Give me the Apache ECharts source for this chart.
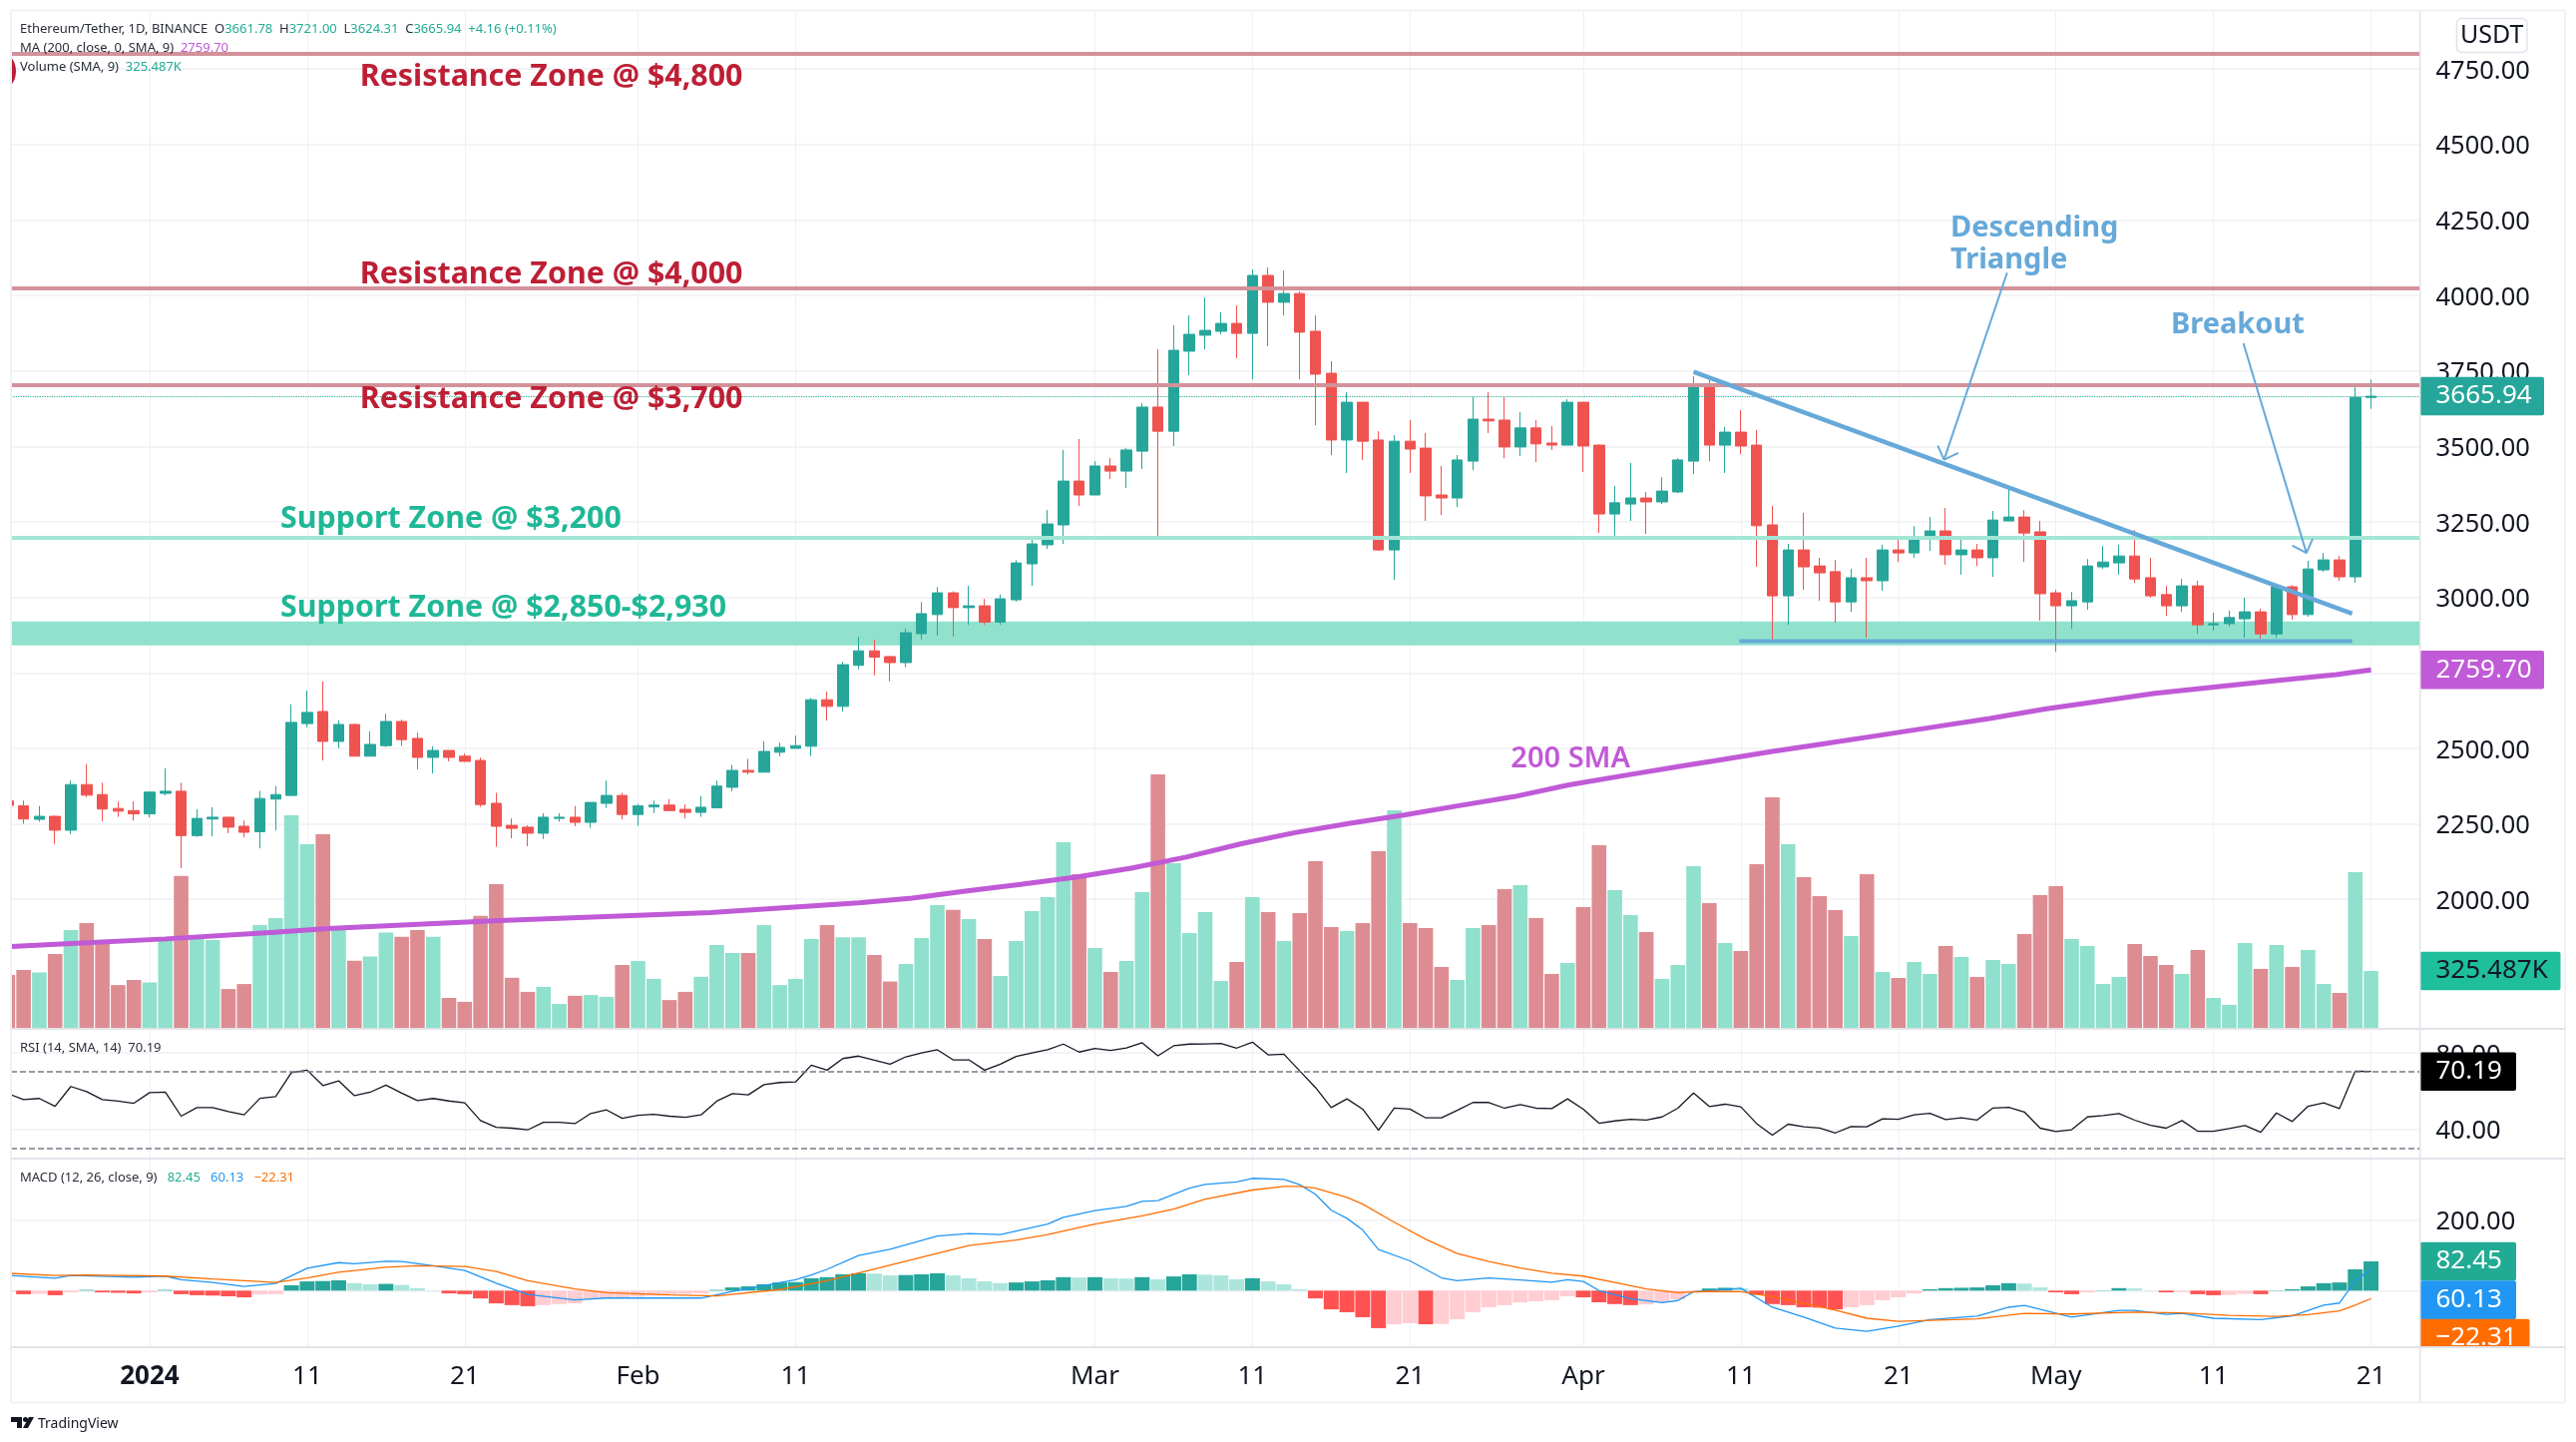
<!DOCTYPE html>
<html>
<head>
<meta charset="utf-8">
<title>ETHUSDT</title>
<style>
html,body{margin:0;padding:0;background:#fff}
#main{width:2582px;height:1445px}
</style>
<script src="https://cdn.jsdelivr.net/npm/echarts@6/dist/echarts.min.js"></script>
</head>
<body>
<div id="main"></div>
<script>
'use strict'
// one row per month: Dec 23 - Dec 31, Jan, Feb, Mar, Apr, May 1 - May 21
const firstDay = -9; // Dec 23, counted in days from Jan 1
const opens = [
	2326,2310,2265,2275,2229,2380,2347,2301,2294,
	2283,2351,2358,2211,2266,2272,2242,2224,2332,2344,2582,2622,2523,2579,2474,2509,2589,2533,2470,2493,2474,2460,2318,2245,2239,2219,2268,2272,2255,2318,2344,
	2281,2306,2312,2298,2288,2303,2371,2427,2421,2487,2500,2507,2661,2639,2775,2823,2804,2784,2880,2943,3015,2966,2972,2918,2992,3111,3174,3240,3385,
	3339,3435,3418,3484,3630,3550,3815,3868,3881,3907,3874,4066,3977,4006,3881,3742,3521,3646,3521,3157,3517,3494,3339,3329,3451,3590,3587,3498,3561,3511,3504,
	3646,3504,3276,3309,3329,3316,3349,3451,3696,3504,3547,3504,3240,3005,3157,3104,3085,2985,3065,3055,3157,3147,3197,3220,3141,3157,3131,3253,3266,3217,
	3015,2972,2985,3101,3114,3137,3065,3009,2972,3038,2909,2913,2929,2952,2879,3035,2943,3091,3124,3068,3661.78
];
const closes = [
	2311,2266,2275,2229,2380,2345,2299,2292,2283,
	2355,2358,2211,2268,2272,2239,2222,2334,2347,2586,2619,2523,2579,2474,2513,2589,2529,2470,2493,2470,2457,2314,2242,2235,2219,2272,2272,2255,2321,2344,2281,
	2310,2312,2294,2288,2305,2375,2427,2421,2490,2503,2509,2661,2639,2777,2823,2802,2784,2883,2946,3015,2966,2972,2918,2995,3114,3177,3243,3385,3339,
	3435,3418,3488,3630,3550,3818,3871,3884,3907,3874,4066,3977,4006,3878,3739,3521,3646,3517,3157,3517,3491,3336,3329,3455,3590,3584,3498,3561,3508,3504,3646,
	3501,3276,3313,3329,3316,3352,3455,3696,3504,3547,3501,3237,3005,3157,3101,3081,2985,3065,3055,3157,3147,3200,3220,3141,3157,3131,3256,3266,3213,3012,
	2972,2989,3104,3117,3137,3061,3005,2972,3038,2909,2913,2933,2952,2879,3035,2943,3094,3124,3068,3662,3665.94
];
const lows = [
	2306,2250,2257,2183,2216,2339,2259,2273,2261,
	2271,2344,2103,2207,2209,2219,2206,2169,2228,2342,2570,2460,2500,2474,2474,2504,2509,2430,2417,2457,2455,2306,2174,2202,2176,2200,2257,2242,2237,2303,2265,
	2244,2286,2294,2268,2273,2303,2358,2414,2421,2474,2500,2474,2592,2622,2762,2742,2722,2769,2861,2874,2870,2909,2909,2909,2986,3038,3160,3177,3303,
	3339,3392,3362,3425,3200,3501,3736,3821,3871,3792,3722,3831,3934,3722,3570,3471,3412,3455,3154,3058,3412,3253,3273,3299,3421,3544,3461,3468,3448,3488,3504,
	3415,3213,3204,3253,3210,3309,3345,3408,3451,3412,3474,3101,2852,2909,3025,2989,2916,2952,2866,3022,3117,3131,3154,3108,3075,3104,3068,3253,3117,2923,
	2820,2896,2959,3094,3075,3048,2999,2939,2952,2879,2889,2903,2866,2863,2866,2926,2936,3084,3055,3048,3624.31
];
const highs = [
	2330,2327,2309,2278,2393,2448,2386,2324,2324,
	2358,2434,2386,2298,2305,2272,2261,2359,2375,2646,2691,2722,2592,2582,2556,2615,2595,2552,2507,2493,2483,2469,2353,2268,2245,2285,2285,2309,2321,2393,2353,
	2316,2327,2332,2314,2342,2393,2445,2465,2524,2519,2542,2667,2688,2786,2870,2860,2806,2896,2984,3034,3020,3038,2995,3009,3123,3197,3289,3488,3524,
	3451,3461,3494,3643,3821,3901,3934,3993,3944,3967,4086,4092,4082,4013,3934,3782,3679,3646,3550,3537,3587,3544,3435,3471,3663,3679,3663,3613,3587,3567,3656,
	3646,3507,3369,3445,3349,3398,3461,3732,3722,3564,3620,3554,3303,3177,3280,3131,3124,3094,3131,3174,3200,3236,3266,3296,3194,3177,3286,3358,3289,3253,
	3025,3018,3127,3170,3174,3223,3131,3038,3061,3055,2949,2956,2999,2962,3041,3041,3121,3147,3137,3696,3721
];
// volume in thousands
const volumes = [
	303,331,317,421,555,595,477,246,275,
	261,497,860,507,499,224,252,583,623,1200,1038,1094,557,383,407,541,517,555,517,174,152,635,814,287,208,236,140,186,190,180,359,
	381,281,162,208,293,471,427,427,583,246,281,505,583,515,515,415,266,365,511,696,669,617,505,297,494,662,741,1049,870,
	454,320,381,769,1431,931,539,656,269,376,741,656,494,651,942,572,550,595,999,1229,595,567,348,275,567,583,785,808,623,309,370,
	684,1032,780,640,544,281,359,914,707,482,438,926,1302,1038,853,746,668,522,870,320,286,376,309,466,404,292,387,365,533,752,
	802,505,466,252,292,477,410,359,309,443,174,135,482,337,471,348,443,252,202,881,325.487
];
const rsiValues = [
	58.6,55.4,56,51.9,62.3,59.6,55.4,54.6,53.5,
	59.1,59.3,46.7,51.2,51.2,49.1,47.4,56.1,57,69.6,70.9,62.8,65.3,57.5,59.3,63,58.8,54.9,56,54.7,53.7,44.4,40.9,40.4,39.5,43.5,43.5,42.8,48.1,50,45.6,
	47.2,47.7,46.7,46.1,47.4,54.6,58.6,57.9,63.3,64.4,64.7,73.5,70.9,77,78.3,76.1,74,77.9,80,81.6,76.3,76.3,70.9,74,78.1,80,81.6,84.6,80.4,
	82.3,81.2,82.6,85.3,78.4,83.7,84.6,84.7,84.9,82.5,85.6,78.9,79.3,70.5,61.8,51.2,55.8,50.4,39.3,51,50.4,45.8,45.8,49.8,53.9,53.9,50.9,52.8,50.9,50.7,55.8,
	50.4,43,44.2,45.1,44.7,46.3,50.9,58.9,51.8,53,51.6,42.8,36.7,42.5,41.1,40.5,37.9,41.2,41.1,45.3,45.1,47.4,48.2,44.9,45.8,44.7,51,51.4,48.9,40.4,
	38.6,39.6,46.3,47,48.1,44.6,41.9,40.4,44.4,38.8,38.8,40.2,41.8,38.2,48.4,43.9,51.9,53.7,50.7,70.4,70.19
];
const macdHist = [
	-3,-10,-9,-13,-5,2,-5,-6,-8,
	-5,2,-10,-13,-14,-16,-19,-11,-10,15,26,27,29,21,18,19,16,7,1,-8,-10,-22,-36,-41,-44,-41,-38,-36,-24,-21,-19,
	-17,-14,-11,-9,-8,2,9,12,18,23,24,35,38,46,49,48,43,44,46,49,43,35,26,21,23,26,29,38,37,
	38,35,34,38,32,40,46,45,43,32,35,26,18,4,-22,-53,-61,-75,-106,-95,-92,-95,-94,-81,-61,-47,-41,-33,-30,-27,-16,
	-19,-33,-38,-41,-39,-33,-25,-3,6,8,6,-12,-38,-41,-47,-48,-53,-47,-41,-27,-19,-8,4,7,8,9,15,21,20,9,
	-5,-10,-5,1,7,6,1,-5,-4,-10,-13,-12,-9,-10,1,4,12,21,23,60,82.45
];
// slow lines, read at the points where the picture bends
const smaDays = [-8.8,-5,1,7.9,11.3,21.8,35.6,45,48.4,51.9,55.4,58.9,62.3,65.8,69.3,72.7,76.2,79.7,83.2,86.6,90.1,93.6,97.1,99.4,102.9,106.4,109.9,113.4,116.8,120.3,127.3,134.2,138.8,141];
const smaValues = [1844,1854,1869,1891,1903,1929,1956,1988,2004,2028,2050,2074,2103,2140,2184,2221,2252,2280,2311,2340,2379,2410,2440,2459,2489,2516,2544,2572,2599,2630,2682,2720,2744,2759.7];
const macdDays = [-9,-6,-5,-1,1,2,4,6,8,10,12,13,15,16,18,20,22,24,27,29,35,37,41,42,43,45,47,50,52,54,57,58,60,62,63,64,66,67,69,70,72,73,74,75,76,77,78,80,82,83,85,87,89,90,91,92,94,96,97,98,99,101,103,105,107,109,111,113,116,118,119,122,125,126,128,129,131,134,136,138,139,140,141];
const macdValues = [43,35,43,38,41,31,23,12,20,63,79,76,83,82,70,57,21,-11,-26,-21,-21,-2,31,44,60,99,117,154,161,158,188,207,226,238,252,254,289,300,307,317,314,299,272,227,204,171,116,84,36,28,36,30,24,31,26,0,-23,-34,-28,-3,0,7,-47,-75,-106,-115,-100,-82,-72,-47,-42,-75,-56,-56,-67,-64,-78,-82,-71,-41,-35,28,60.13];
const signalDays = [-9,-6,-4,1,4,8,10,12,15,17,20,22,24,27,29,33,36,40,43,45,49,52,55,57,60,63,65,67,70,72,73,74,76,77,79,81,83,85,87,89,91,93,95,97,99,101,103,107,109,111,113,116,119,122,126,129,132,135,137,139,140,141];
const signalValues = [49,43,44,41,33,23,36,52,66,70,68,54,28,5,-6,-12,-15,3,28,50,94,127,143,158,188,211,230,258,284,294,294,289,263,244,193,145,105,82,64,49,41,23,5,-6,-2,-3,-17,-55,-78,-87,-84,-80,-64,-66,-61,-63,-70,-73,-68,-57,-41,-22.31];

const resistanceLevels = [4800, 4024, 3704];
const supportLevel = 3199;
const supportZone = [2841, 2920];
const lastClose = 3665.94;
const rsiBands = [70, 30];
// drawings on the chart, [day, price]
const trendLine = [[98, 3747], [139.8, 2946]];
const baseLine = [[100.9, 2855], [139.8, 2855]];
const triangleArrow = [[117.9, 4075], [113.9, 3456]];
const triangleHead = [[113.5, 3502], [113.9, 3456], [114.8, 3478]];
const breakoutArrow = [[132.9, 3841], [136.9, 3147]];
const breakoutHead = [[136, 3172], [136.9, 3147], [137.3, 3194]];

const priceTicks = [2000,2250,2500,2750,3000,3250,3500,3750,4000,4250,4500,4750];
const rsiTicks = [40, 80];
const macdTicks = [0, 200];
const tickDays = [0,10,20,31,41,60,70,80,91,101,111,121,131,141];
const tickLabels = ['2024','11','21','Feb','11','Mar','11','21','Apr','11','21','May','11','21'];

const notes = [
	{text: 'Resistance Zone @ $4,800', day: 13.35, price: 4722, kind: 'red'},
	{text: 'Resistance Zone @ $4,000', day: 13.35, price: 4069, kind: 'red'},
	{text: 'Resistance Zone @ $3,700', day: 13.35, price: 3654, kind: 'red'},
	{text: 'Support Zone @ $3,200', day: 8.3, price: 3257, kind: 'green'},
	{text: 'Support Zone @ $2,850-$2,930', day: 8.3, price: 2966, kind: 'green'},
	{text: 'Descending', day: 114.3, price: 4222, kind: 'blue'},
	{text: 'Triangle', day: 114.3, price: 4117, kind: 'blue'},
	{text: 'Breakout', day: 128.3, price: 3902, kind: 'blue'},
	{text: '200 SMA', day: 86.4, price: 2465, kind: 'purple'}
];

const redText = '#bd1f35', greenText = '#1fb896', blueText = '#66a9d9', purple = '#c05ad6';
const font = '"Noto Sans", sans-serif';
const noteStyles = {
	red: {color: redText, fontSize: 30.4, fontWeight: 700},
	green: {color: greenText, fontSize: 30.4, fontWeight: 700},
	blue: {color: blueText, fontSize: 29, fontWeight: 700},
	purple: {color: purple, fontSize: 29, fontWeight: 600}
};
const upColor = '#26a69a', downColor = '#ef5350';
const gridColor = '#f0f1f4', paneColor = '#e2e4ea', inkColor = '#131722';
const days = opens.map((v, i) => firstDay + i);
const xMin = -8.8, xMax = 144.1;

const chart = echarts.init(document.getElementById('main'));

function xAxis(gridIndex, showLabel) {
	return {
		type: 'value', gridIndex, min: xMin, max: xMax,
		axisLine: {show: false},
		axisTick: {show: false, customValues: tickDays},
		splitLine: {show: true, lineStyle: {color: gridColor, width: 1}},
		axisLabel: {
			show: showLabel,
			customValues: tickDays,
			margin: 17,
			fontFamily: font, fontSize: 26, color: inkColor,
			formatter: v => {
				let label = tickLabels[tickDays.indexOf(v)];
				return label === '2024' ? `{year|${label}}` : label;
			},
			rich: {year: {fontFamily: font, fontSize: 26, fontWeight: 'bold', color: inkColor}}
		}
	};
}
function yAxis(gridIndex, min, max, ticks) {
	return {
		type: 'value', gridIndex, min, max, position: 'right',
		axisLine: {show: false},
		axisTick: {show: false, customValues: ticks},
		splitLine: {show: true, lineStyle: {color: gridColor, width: 1.5}},
		axisLabel: {
			customValues: ticks, margin: 16,
			formatter: v => `{tick|${v.toFixed(2)}}`,
			rich: {tick: {fontFamily: font, fontSize: 25.5, color: inkColor, padding: [5, 0, 0, 0]}}
		}
	};
}
function drawing(points, color, width) {
	return {
		type: 'line', data: points, symbol: 'none', silent: true, z: 6,
		lineStyle: {color, width}
	};
}
function flatLine(value, color, width, type) {
	return {yAxis: value, lineStyle: {color, width, type: type || 'solid'}};
}

let option = {
	animation: false,
	backgroundColor: '#fff',
	grid: [
		{left: 11, right: 156.5, top: 11, height: 1020},
		{left: 11, right: 156.5, top: 1031, height: 130},
		{left: 11, right: 156.5, top: 1161, height: 189}
	],
	xAxis: [xAxis(0, false), xAxis(1, false), xAxis(2, true)],
	yAxis: [
		yAxis(0, 1571.2, 4941.6, priceTicks),
		{type: 'value', gridIndex: 0, min: 0, max: 5722, show: false, splitLine: {show: false}},
		yAxis(1, 24.4, 92.6, rsiTicks),
		yAxis(2, -159.7, 372.7, macdTicks)
	],
	series: [
		{
			// zones and levels sit under the candles
			name: 'Levels', type: 'line', data: [], silent: true, z: 1,
			markArea: {
				silent: true,
				itemStyle: {color: '#90e2cd', opacity: 1},
				data: [[{yAxis: supportZone[1]}, {yAxis: supportZone[0]}]]
			},
			markLine: {
				silent: true, symbol: 'none', label: {show: false},
				data: resistanceLevels.map(v => flatLine(v, '#d3929a', 4))
					.concat([flatLine(supportLevel, '#a3e6d6', 4)])
			}
		},
		{
			name: 'Volume', type: 'bar', yAxisIndex: 1, barWidth: 14.6, z: 2,
			data: volumes.map((v, i) => ({
				value: [days[i], v],
				itemStyle: {color: closes[i] >= opens[i] ? '#8fe0cc' : '#dd8c92'}
			}))
		},
		{
			name: 'ETHUSDT', type: 'candlestick', barWidth: 11, z: 3,
			itemStyle: {color: upColor, color0: downColor, borderColor: upColor, borderColor0: downColor, borderWidth: 1},
			data: opens.map((v, i) => [days[i], v, closes[i], lows[i], highs[i]]),
			markLine: {
				silent: true, symbol: 'none', label: {show: false},
				data: [flatLine(lastClose, '#22ab94', 1.2, 'dotted')]
			}
		},
		{
			name: 'MA', type: 'line', symbol: 'none', silent: true, z: 5,
			data: smaDays.map((d, i) => [d, smaValues[i]]),
			lineStyle: {color: purple, width: 5}
		},
		drawing(trendLine, '#66a9d9', 4.5),
		drawing(baseLine, '#66a9d9', 4),
		drawing(triangleArrow, '#66a9d9', 2),
		drawing(triangleHead, '#66a9d9', 2),
		drawing(breakoutArrow, '#66a9d9', 2),
		drawing(breakoutHead, '#66a9d9', 2),
		{
			// scatter fades to 0.8 by default and its labels follow, so it is set back to 1
			name: 'Notes', type: 'scatter', symbolSize: 0, silent: true, z: 7,
			itemStyle: {opacity: 1},
			data: notes.map(n => ({
				value: [n.day, n.price],
				label: Object.assign({show: true, position: 'right', distance: 0, opacity: 1, formatter: n.text, fontFamily: font}, noteStyles[n.kind])
			}))
		},
		{
			name: 'RSI', type: 'line', xAxisIndex: 1, yAxisIndex: 2, symbol: 'none', silent: true,
			data: rsiValues.map((v, i) => [days[i], v]),
			lineStyle: {color: inkColor, width: 1.3},
			markLine: {
				silent: true, symbol: 'none', label: {show: false},
				data: rsiBands.map(v => flatLine(v, '#787b86', 1.5, 'dashed'))
			}
		},
		{
			name: 'Histogram', type: 'bar', xAxisIndex: 2, yAxisIndex: 3, barWidth: 15, z: 2,
			data: macdHist.map((v, i) => {
				let rising = i === 0 || v >= macdHist[i - 1];
				let color = v >= 0 ? (rising ? upColor : '#ace5dc') : (rising ? '#ffcdd2' : '#ff5252');
				return {value: [days[i], v], itemStyle: {color}};
			})
		},
		{
			name: 'MACD', type: 'line', xAxisIndex: 2, yAxisIndex: 3, symbol: 'none', silent: true, z: 3,
			data: macdDays.map((d, i) => [d, macdValues[i]]),
			lineStyle: {color: '#2196f3', width: 1.3}
		},
		{
			name: 'Signal', type: 'line', xAxisIndex: 2, yAxisIndex: 3, symbol: 'none', silent: true, z: 4,
			data: signalDays.map((d, i) => [d, signalValues[i]]),
			lineStyle: {color: '#ff6d00', width: 1.3}
		}
	]
};
chart.setOption(option);

// price tags and the frame around the panes
const axisX = 2425.5, tagZ = 100;
function tag(centerY, width, fill, text, textColor) {
	return [
		{type: 'rect', z: tagZ, silent: true, shape: {x: axisX, y: centerY - 19.3, width, height: 38.6, r: 2}, style: {fill}},
		{type: 'text', z: tagZ, silent: true, x: axisX + 16, y: centerY, style: {text, fill: textColor || '#fff', font: `26px ${font}`, textVerticalAlign: 'middle'}}
	];
}
function rule(x, y, width, height, fill) {
	return {type: 'rect', z: tagZ + 2, silent: true, shape: {x, y, width, height}, style: {fill}};
}
const legend = {
	name: {fill: '#2a2e39', font: `13px ${font}`},
	up: {fill: '#22ab94', font: `13px ${font}`},
	ma: {fill: purple, font: `13px ${font}`}
};
function legendLine(y, parts) {
	return {
		type: 'text', z: tagZ, silent: true, x: 20, y,
		style: {
			text: parts.map(p => `{${p[0]}|${p[1]}}`).join(''),
			rich: legend, textVerticalAlign: 'middle'
		}
	};
}
let priceY = chart.convertToPixel({yAxisIndex: 0}, lastClose),
	smaY = chart.convertToPixel({yAxisIndex: 0}, smaValues[smaValues.length - 1]),
	volY = chart.convertToPixel({yAxisIndex: 1}, volumes[volumes.length - 1]),
	rsiY = chart.convertToPixel({yAxisIndex: 2}, rsiValues[rsiValues.length - 1]);

chart.setOption({
	graphic: [
		legendLine(29.5, [['name', 'Ethereum/Tether, 1D, BINANCE  O'], ['up', '3661.78 '], ['name', ' H'], ['up', '3721.00 '], ['name', ' L'], ['up', '3624.31 '], ['name', ' C'], ['up', '3665.94  +4.16 (+0.11%)']]),
		legendLine(48.5, [['name', 'MA (200, close, 0, SMA, 9)  '], ['ma', '2759.70']]),
		legendLine(67.5, [['name', 'Volume (SMA, 9)  '], ['up', '325.487K']]),
		legendLine(1050, [['name', 'RSI (14, SMA, 14)  70.19']]),
		{
			type: 'text', z: tagZ, silent: true, x: 20, y: 1180,
			style: {
				text: '{name|MACD (12, 26, close, 9)   }{up|82.45   }{blue|60.13   }{orange|\u221222.31}',
				rich: Object.assign({blue: {fill: '#2196f3', font: `13px ${font}`}, orange: {fill: '#ff6d00', font: `13px ${font}`}}, legend),
				textVerticalAlign: 'middle'
			}
		},
		{type: 'text', z: tagZ, silent: true, x: 7, y: 71, style: {text: ')', fill: redText, font: `700 30px ${font}`, textVerticalAlign: 'middle'}},
		{type: 'rect', z: tagZ, silent: true, shape: {x: 2462.5, y: 18.5, width: 70.5, height: 34, r: 5}, style: {fill: '#fff', stroke: '#e0e3eb', lineWidth: 1.5}},
		{type: 'text', z: tagZ, silent: true, x: 2497.7, y: 36, style: {text: 'USDT', fill: inkColor, font: `25px ${font}`, textAlign: 'center', textVerticalAlign: 'middle'}},
		...tag(priceY, 124.5, upColor, '3665.94'),
		...tag(smaY, 124.5, purple, '2759.70'),
		...tag(volY, 141, '#1fbe9c', '325.487K', inkColor),
		...tag(rsiY, 96.5, '#000', '70.19'),
		...tag(1264, 96.5, '#22ab94', '82.45'),
		...tag(1302.6, 96.5, '#2196f3', '60.13'),
		...tag(1341, 110, '#ff6d00', '\u221222.31'),
		{type: 'rect', z: tagZ + 1, silent: true, shape: {x: axisX, y: 1350, width: 150, height: 55}, style: {fill: '#fff'}},
		// value axes let bars run a band past the plot, so the left margin is painted over
		{type: 'rect', z: tagZ + 1, silent: true, shape: {x: 0, y: 0, width: 10.5, height: 1445}, style: {fill: '#fff'}},
		// frame
		rule(11, 9.5, 2560, 2, gridColor),
		rule(10, 9.5, 2, 1396, gridColor),
		rule(2570, 9.5, 2, 1396, gridColor),
		rule(11, 1404.5, 2560, 2, gridColor),
		rule(11, 1030, 2560, 2, paneColor),
		rule(11, 1160, 2560, 2, paneColor),
		rule(11, 1349, 2560, 2, paneColor),
		rule(axisX - 0.5, 11, 1.5, 1394, paneColor),
		// TradingView mark
		{type: 'polygon', z: tagZ + 2, silent: true, shape: {points: [[11, 1420], [22, 1420], [22, 1431], [17, 1431], [17, 1425], [11, 1425]]}, style: {fill: inkColor}},
		{type: 'circle', z: tagZ + 2, silent: true, shape: {cx: 25.5, cy: 1422.5, r: 2.5}, style: {fill: inkColor}},
		{type: 'polygon', z: tagZ + 2, silent: true, shape: {points: [[29, 1420], [34, 1420], [28, 1431], [23, 1431]]}, style: {fill: inkColor}},
		{type: 'text', z: tagZ, silent: true, x: 38, y: 1427, style: {text: 'TradingView', fill: inkColor, font: `14px ${font}`, textVerticalAlign: 'middle'}}
	]
});
</script>
</body>
</html>
